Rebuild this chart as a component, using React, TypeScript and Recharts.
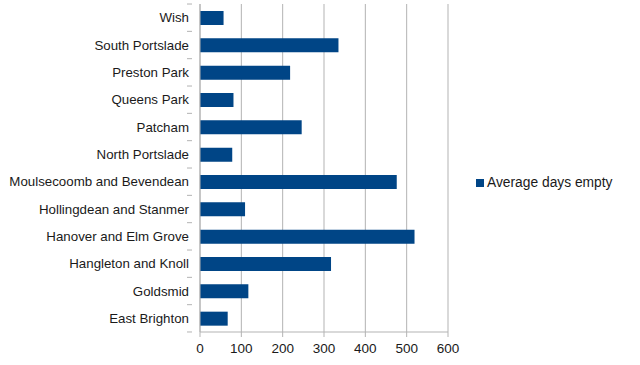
import React from "react";
import { BarChart, Bar, XAxis, YAxis, CartesianGrid, Legend } from "recharts";

const categories = [
  "Wish",
  "South Portslade",
  "Preston Park",
  "Queens Park",
  "Patcham",
  "North Portslade",
  "Moulsecoomb and Bevendean",
  "Hollingdean and Stanmer",
  "Hanover and Elm Grove",
  "Hangleton and Knoll",
  "Goldsmid",
  "East Brighton",
];
const averageDaysEmpty = [57, 335, 218, 81, 246, 78, 476, 109, 519, 317, 117, 67];
const xTicks = [0, 100, 200, 300, 400, 500, 600];
const seriesName = "Average days empty";

const data = categories.map((c, i) => ({ name: c, value: averageDaysEmpty[i] }));

const FONT = "'Liberation Sans', Arial, sans-serif";
const BAND = 327.6 / categories.length;

const YTick = (props: any) => {
  const { x, y, payload, index } = props;
  const last = index === categories.length - 1;
  return (
    <g>
      <text x={x - 3} y={y} dy={4.5} textAnchor="end" fill="#1a1a1a" fontSize={13.3} fontFamily={FONT}>
        {payload.value}
      </text>
      <line x1={x - 5} x2={x} y1={y - BAND / 2} y2={y - BAND / 2} stroke="#b3b3b3" />
      {last && <line x1={x - 5} x2={x} y1={y + BAND / 2} y2={y + BAND / 2} stroke="#b3b3b3" />}
    </g>
  );
};

const XTick = (props: any) => {
  const { x, y, payload } = props;
  return (
    <text x={x} y={y} dy={14} textAnchor="middle" fill="#1a1a1a" fontSize={13.5} fontFamily={FONT}>
      {payload.value}
    </text>
  );
};

const LegendContent = () => (
  <div style={{ display: "flex", alignItems: "center", whiteSpace: "nowrap", paddingLeft: 28, fontFamily: FONT, fontSize: 13.8, color: "#1a1a1a" }}>
    <span style={{ display: "inline-block", width: 8, height: 8, background: "#004586", marginRight: 3, flexShrink: 0 }} />
    <span>{seriesName}</span>
  </div>
);

export default function App() {
  return (
    <div style={{ position: "absolute", left: 0, top: 0, width: 640, height: 365, background: "#fff" }}>
      <BarChart
        width={640}
        height={365}
        data={data}
        layout="vertical"
        margin={{ top: 4, right: 32, bottom: 0, left: 0 }}
      >
        <CartesianGrid horizontal={false} stroke="#b3b3b3" />
        <XAxis
          type="number"
          domain={[0, 600]}
          ticks={xTicks}
          interval={0}
          stroke="#b3b3b3"
          tickSize={5}
          height={33}
          tick={<XTick />}
        />
        <YAxis
          type="category"
          dataKey="name"
          width={200}
          stroke="#b3b3b3"
          tickLine={false}
          interval={0}
          tick={<YTick />}
        />
        <Legend
          layout="vertical"
          align="right"
          verticalAlign="middle"
          wrapperStyle={{ width: 160 }}
          content={<LegendContent />}
        />
        <Bar dataKey="value" name={seriesName} fill="#004586" barSize={14} isAnimationActive={false} />
      </BarChart>
    </div>
  );
}
